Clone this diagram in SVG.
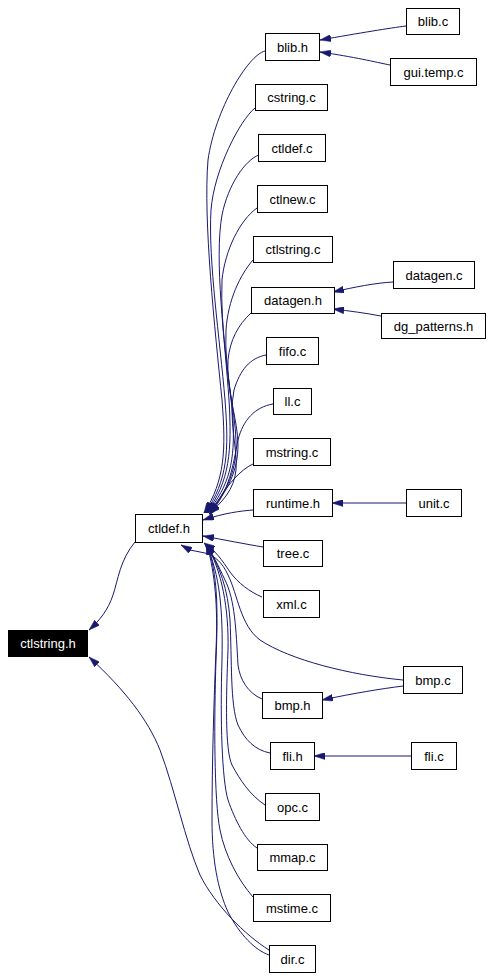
<svg xmlns="http://www.w3.org/2000/svg" width="492" height="979" viewBox="0 0 492 979">
<style>
.n rect{fill:#fff;stroke:#000;stroke-width:1}
.n text{font-family:"Liberation Sans",Arial,sans-serif;font-size:13px;text-anchor:middle;fill:#000}
#n_ctlstring_h rect{fill:#000}
#n_ctlstring_h text{fill:#fff}
.e path{fill:none;stroke:#191970;stroke-width:1;marker-end:url(#ah)}
</style>
<defs>
<marker id="ah" viewBox="0 0 11 7" refX="11" refY="3.5" markerWidth="11" markerHeight="7" markerUnits="userSpaceOnUse" orient="auto"><path d="M0,0 L11,3.5 L0,7 z" fill="#191970" stroke="#191970" stroke-width="0.5"/></marker>
</defs>
<rect width="492" height="979" fill="#fff"/>
<g id="edges" class="e">
<path d="M135,542 C120,560 118,580 113,595 C108,610 100,620 89,630"/>
<path d="M269,950 C245,935 215,905 200,875 C185,840 175,790 160,750 C148,720 125,690 89,657"/>
<path d="M406,26 C390,28 360,33 320,40"/>
<path d="M390,65 C375,62 355,57 320,52"/>
<path d="M393,282 C375,283 355,287 333,292"/>
<path d="M381,316 C365,313 350,311 333,309"/>
<path d="M406,503 L332,503"/>
<path d="M411,756 L314,756"/>
<path d="M403,686 C380,689 355,693 322,700"/>
<path d="M265,51 C248,55 215,110 208,160 C203,220 215,330 222,400 C226,450 225,480 204,513"/>
<path d="M255,108 C240,120 214,170 211,210 C208,260 220,340 225,400 C229,450 228,480 205,513"/>
<path d="M259,155 C245,160 228,185 222,215 C214,260 225,340 229,400 C232,450 230,482 206,513"/>
<path d="M257,208 C240,220 225,250 222,280 C220,330 230,380 233,420 C235,460 230,485 207,513"/>
<path d="M253,260 C240,275 228,300 226,330 C224,370 235,410 236,440 C237,470 228,490 208,513"/>
<path d="M251,313 C238,325 230,340 228,360 C226,390 238,420 238,445 C238,470 228,492 208,513"/>
<path d="M266,355 C250,358 240,370 234,390 C228,420 238,450 236,470 C234,490 222,502 209,514"/>
<path d="M273,404 C255,407 243,420 238,440 C233,465 230,490 210,514"/>
<path d="M253,464 C240,470 228,485 222,495 C217,503 214,508 210,515"/>
<path d="M253,510 C240,511 225,513 203,520"/>
<path d="M263,547 C245,544 225,540 203,536"/>
<path d="M262,597 C250,592 238,583 230,572 C222,560 215,550 204,543"/>
<path d="M403,680 C350,675 290,660 260,640 C240,625 238,595 228,575 C222,562 215,556 205,553 L190,550 L181,545"/>
<path d="M262,699 C248,693 240,680 238,665 C236,630 235,600 225,580 C218,565 212,552 205,544"/>
<path d="M270,753 C255,750 245,740 238,725 C230,705 232,660 230,620 C228,590 220,565 205,544"/>
<path d="M265,805 C250,795 240,780 232,765 C225,750 226,700 228,650 C229,610 222,570 206,544"/>
<path d="M257,848 C245,840 235,820 228,800 C222,780 220,720 222,660 C223,610 220,575 206,544"/>
<path d="M253,897 C238,880 225,855 220,830 C214,800 214,720 216,660 C218,610 218,575 207,544"/>
<path d="M269,955 C255,950 240,935 228,912 C218,890 212,860 212,820 C212,760 214,700 216,650 C218,605 215,575 207,544"/>
</g>
<g id="n_ctlstring_h" class="n"><rect x="8.5" y="630.5" width="79" height="26"/><text x="48" y="648">ctlstring.h</text></g>
<g id="n_ctldef_h" class="n"><rect x="135.5" y="514.5" width="67" height="28"/><text x="169" y="533">ctldef.h</text></g>
<g id="n_blib_h" class="n"><rect x="265.5" y="33.5" width="54" height="27"/><text x="292.5" y="51.5">blib.h</text></g>
<g id="n_blib_c" class="n"><rect x="406.5" y="8.5" width="53" height="26"/><text x="433" y="26">blib.c</text></g>
<g id="n_gui_temp_c" class="n"><rect x="390.5" y="58.5" width="86" height="27"/><text x="433.5" y="76.5">gui.temp.c</text></g>
<g id="n_cstring_c" class="n"><rect x="255.5" y="84.5" width="72" height="26"/><text x="291.5" y="102">cstring.c</text></g>
<g id="n_ctldef_c" class="n"><rect x="258.5" y="134.5" width="67" height="27"/><text x="292" y="152.5">ctldef.c</text></g>
<g id="n_ctlnew_c" class="n"><rect x="257.5" y="185.5" width="70" height="27"/><text x="292.5" y="203.5">ctlnew.c</text></g>
<g id="n_ctlstring_c" class="n"><rect x="253.5" y="236.5" width="79" height="26"/><text x="293" y="254">ctlstring.c</text></g>
<g id="n_datagen_h" class="n"><rect x="251.5" y="287.5" width="83" height="26"/><text x="293" y="305">datagen.h</text></g>
<g id="n_datagen_c" class="n"><rect x="393.5" y="261.5" width="81" height="27"/><text x="434" y="279.5">datagen.c</text></g>
<g id="n_dg_patterns_h" class="n"><rect x="381.5" y="313.5" width="104" height="25"/><text x="433.5" y="330.5">dg_patterns.h</text></g>
<g id="n_fifo_c" class="n"><rect x="266.5" y="337.5" width="52" height="27"/><text x="292.5" y="355.5">fifo.c</text></g>
<g id="n_ll_c" class="n"><rect x="273.5" y="388.5" width="38" height="26"/><text x="292.5" y="406">ll.c</text></g>
<g id="n_mstring_c" class="n"><rect x="253.5" y="438.5" width="77" height="27"/><text x="292" y="456.5">mstring.c</text></g>
<g id="n_runtime_h" class="n"><rect x="253.5" y="489.5" width="79" height="27"/><text x="293" y="507.5">runtime.h</text></g>
<g id="n_unit_c" class="n"><rect x="406.5" y="489.5" width="55" height="27"/><text x="434" y="507.5">unit.c</text></g>
<g id="n_tree_c" class="n"><rect x="263.5" y="540.5" width="59" height="26"/><text x="293" y="558">tree.c</text></g>
<g id="n_xml_c" class="n"><rect x="263.5" y="590.5" width="56" height="27"/><text x="291.5" y="608.5">xml.c</text></g>
<g id="n_bmp_c" class="n"><rect x="403.5" y="666.5" width="59" height="27"/><text x="433" y="684.5">bmp.c</text></g>
<g id="n_bmp_h" class="n"><rect x="262.5" y="692.5" width="60" height="26"/><text x="292.5" y="710">bmp.h</text></g>
<g id="n_fli_h" class="n"><rect x="270.5" y="742.5" width="44" height="27"/><text x="292.5" y="760.5">fli.h</text></g>
<g id="n_fli_c" class="n"><rect x="411.5" y="742.5" width="45" height="27"/><text x="434" y="760.5">fli.c</text></g>
<g id="n_opc_c" class="n"><rect x="265.5" y="793.5" width="54" height="27"/><text x="292.5" y="811.5">opc.c</text></g>
<g id="n_mmap_c" class="n"><rect x="257.5" y="844.5" width="70" height="26"/><text x="292.5" y="862">mmap.c</text></g>
<g id="n_mstime_c" class="n"><rect x="253.5" y="894.5" width="77" height="27"/><text x="292" y="912.5">mstime.c</text></g>
<g id="n_dir_c" class="n"><rect x="269.5" y="945.5" width="46" height="27"/><text x="292.5" y="963.5">dir.c</text></g>
</svg>
